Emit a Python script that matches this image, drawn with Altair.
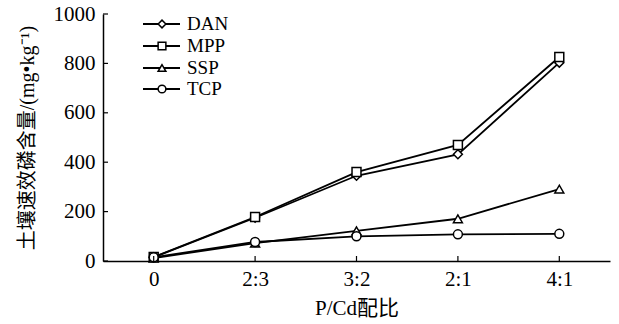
import altair as alt
import pandas as pd

categories = ["0", "2:3", "3:2", "2:1", "4:1"]
series_names = ["DAN", "MPP", "SSP", "TCP"]
dan = [15, 175, 345, 432, 803]
mpp = [16, 178, 360, 470, 826]
ssp = [12, 72, 122, 171, 291]
tcp = [15, 77, 100, 108, 110]
shapes = ["diamond", "square", "triangle-up", "circle"]
y_ticks = [0, 200, 400, 600, 800, 1000]

rows = []
for name, vals in zip(series_names, [dan, mpp, ssp, tcp]):
    for c, v in zip(categories, vals):
        rows.append({"ratio": c, "value": v, "series": name})
df = pd.DataFrame(rows)

W, H = 507, 247
FONT = "Liberation Serif, Noto Sans CJK SC"

xscale = alt.Scale(type="point", domain=categories, padding=0.5)
yscale = alt.Scale(domain=[0, 1000])
shape_scale = alt.Scale(domain=series_names, range=shapes)

x_enc = alt.X("ratio:N", scale=xscale, sort=categories,
              axis=alt.Axis(title="P/Cd配比", labelAngle=0, ticks=False,
                            labelPadding=7, titlePadding=8, titleFontSize=21))
y_enc = alt.Y("value:Q", scale=yscale,
              axis=alt.Axis(title="土壤速效磷含量/(mg•kg⁻¹)", values=y_ticks,
                            format="d", ticks=False, labelPadding=8,
                            titlePadding=16, grid=False, titleFontSize=20))

lines = alt.Chart(df).mark_line(color="black", strokeWidth=1.8).encode(
    x=x_enc, y=y_enc, detail="series:N"
)
points = alt.Chart(df).mark_point(filled=True, fill="white", stroke="black",
                                  strokeWidth=1.5, opacity=1).encode(
    x=alt.X("ratio:N", scale=xscale, sort=categories),
    y=alt.Y("value:Q", scale=yscale),
    shape=alt.Shape("series:N", scale=shape_scale, legend=None),
    size=alt.value(80),
)

# inward ticks
ytick_df = pd.DataFrame({"v": y_ticks})
yticks = alt.Chart(ytick_df).mark_rule(color="black", strokeWidth=1.2).encode(
    y=alt.Y("v:Q", scale=yscale), x=alt.value(0), x2=alt.value(5)
)
xtick_df = pd.DataFrame({"ratio": categories})
xticks = alt.Chart(xtick_df).mark_rule(color="black", strokeWidth=1.2).encode(
    x=alt.X("ratio:N", scale=xscale, sort=categories),
    y=alt.value(H), y2=alt.value(H - 5)
)

# legend
leg = pd.DataFrame({"series": series_names, "ly": [10, 32, 54, 75]})
leg_lines = alt.Chart(leg).mark_rule(color="black", strokeWidth=1.8).encode(
    y=alt.Y("ly:Q", scale=None), x=alt.value(40), x2=alt.value(77)
)
leg_pts = alt.Chart(leg).mark_point(filled=True, fill="white", stroke="black",
                                    strokeWidth=1.5, opacity=1).encode(
    y=alt.Y("ly:Q", scale=None), x=alt.value(59),
    shape=alt.Shape("series:N", scale=shape_scale, legend=None),
    size=alt.value(60),
)
leg_text = alt.Chart(leg).mark_text(align="left", baseline="middle",
                                    font=FONT, fontSize=19, color="black").encode(
    y=alt.Y("ly:Q", scale=None), x=alt.value(84), text="series:N"
)

chart = alt.layer(lines, points, yticks, xticks, leg_lines, leg_pts, leg_text).properties(
    width=W, height=H,
    autosize=alt.AutoSizeParams(type="none"),
    padding={"left": 103, "top": 14, "right": 9, "bottom": 63},
    background="white",
).configure_view(stroke=None).configure_axis(
    domainColor="black", domainWidth=1.5, labelColor="black", titleColor="black",
    labelFont=FONT, titleFont=FONT, labelFontSize=21,
    titleFontWeight="normal",
)

chart.save("out.html", embed_options={"renderer": "svg", "actions": False})
